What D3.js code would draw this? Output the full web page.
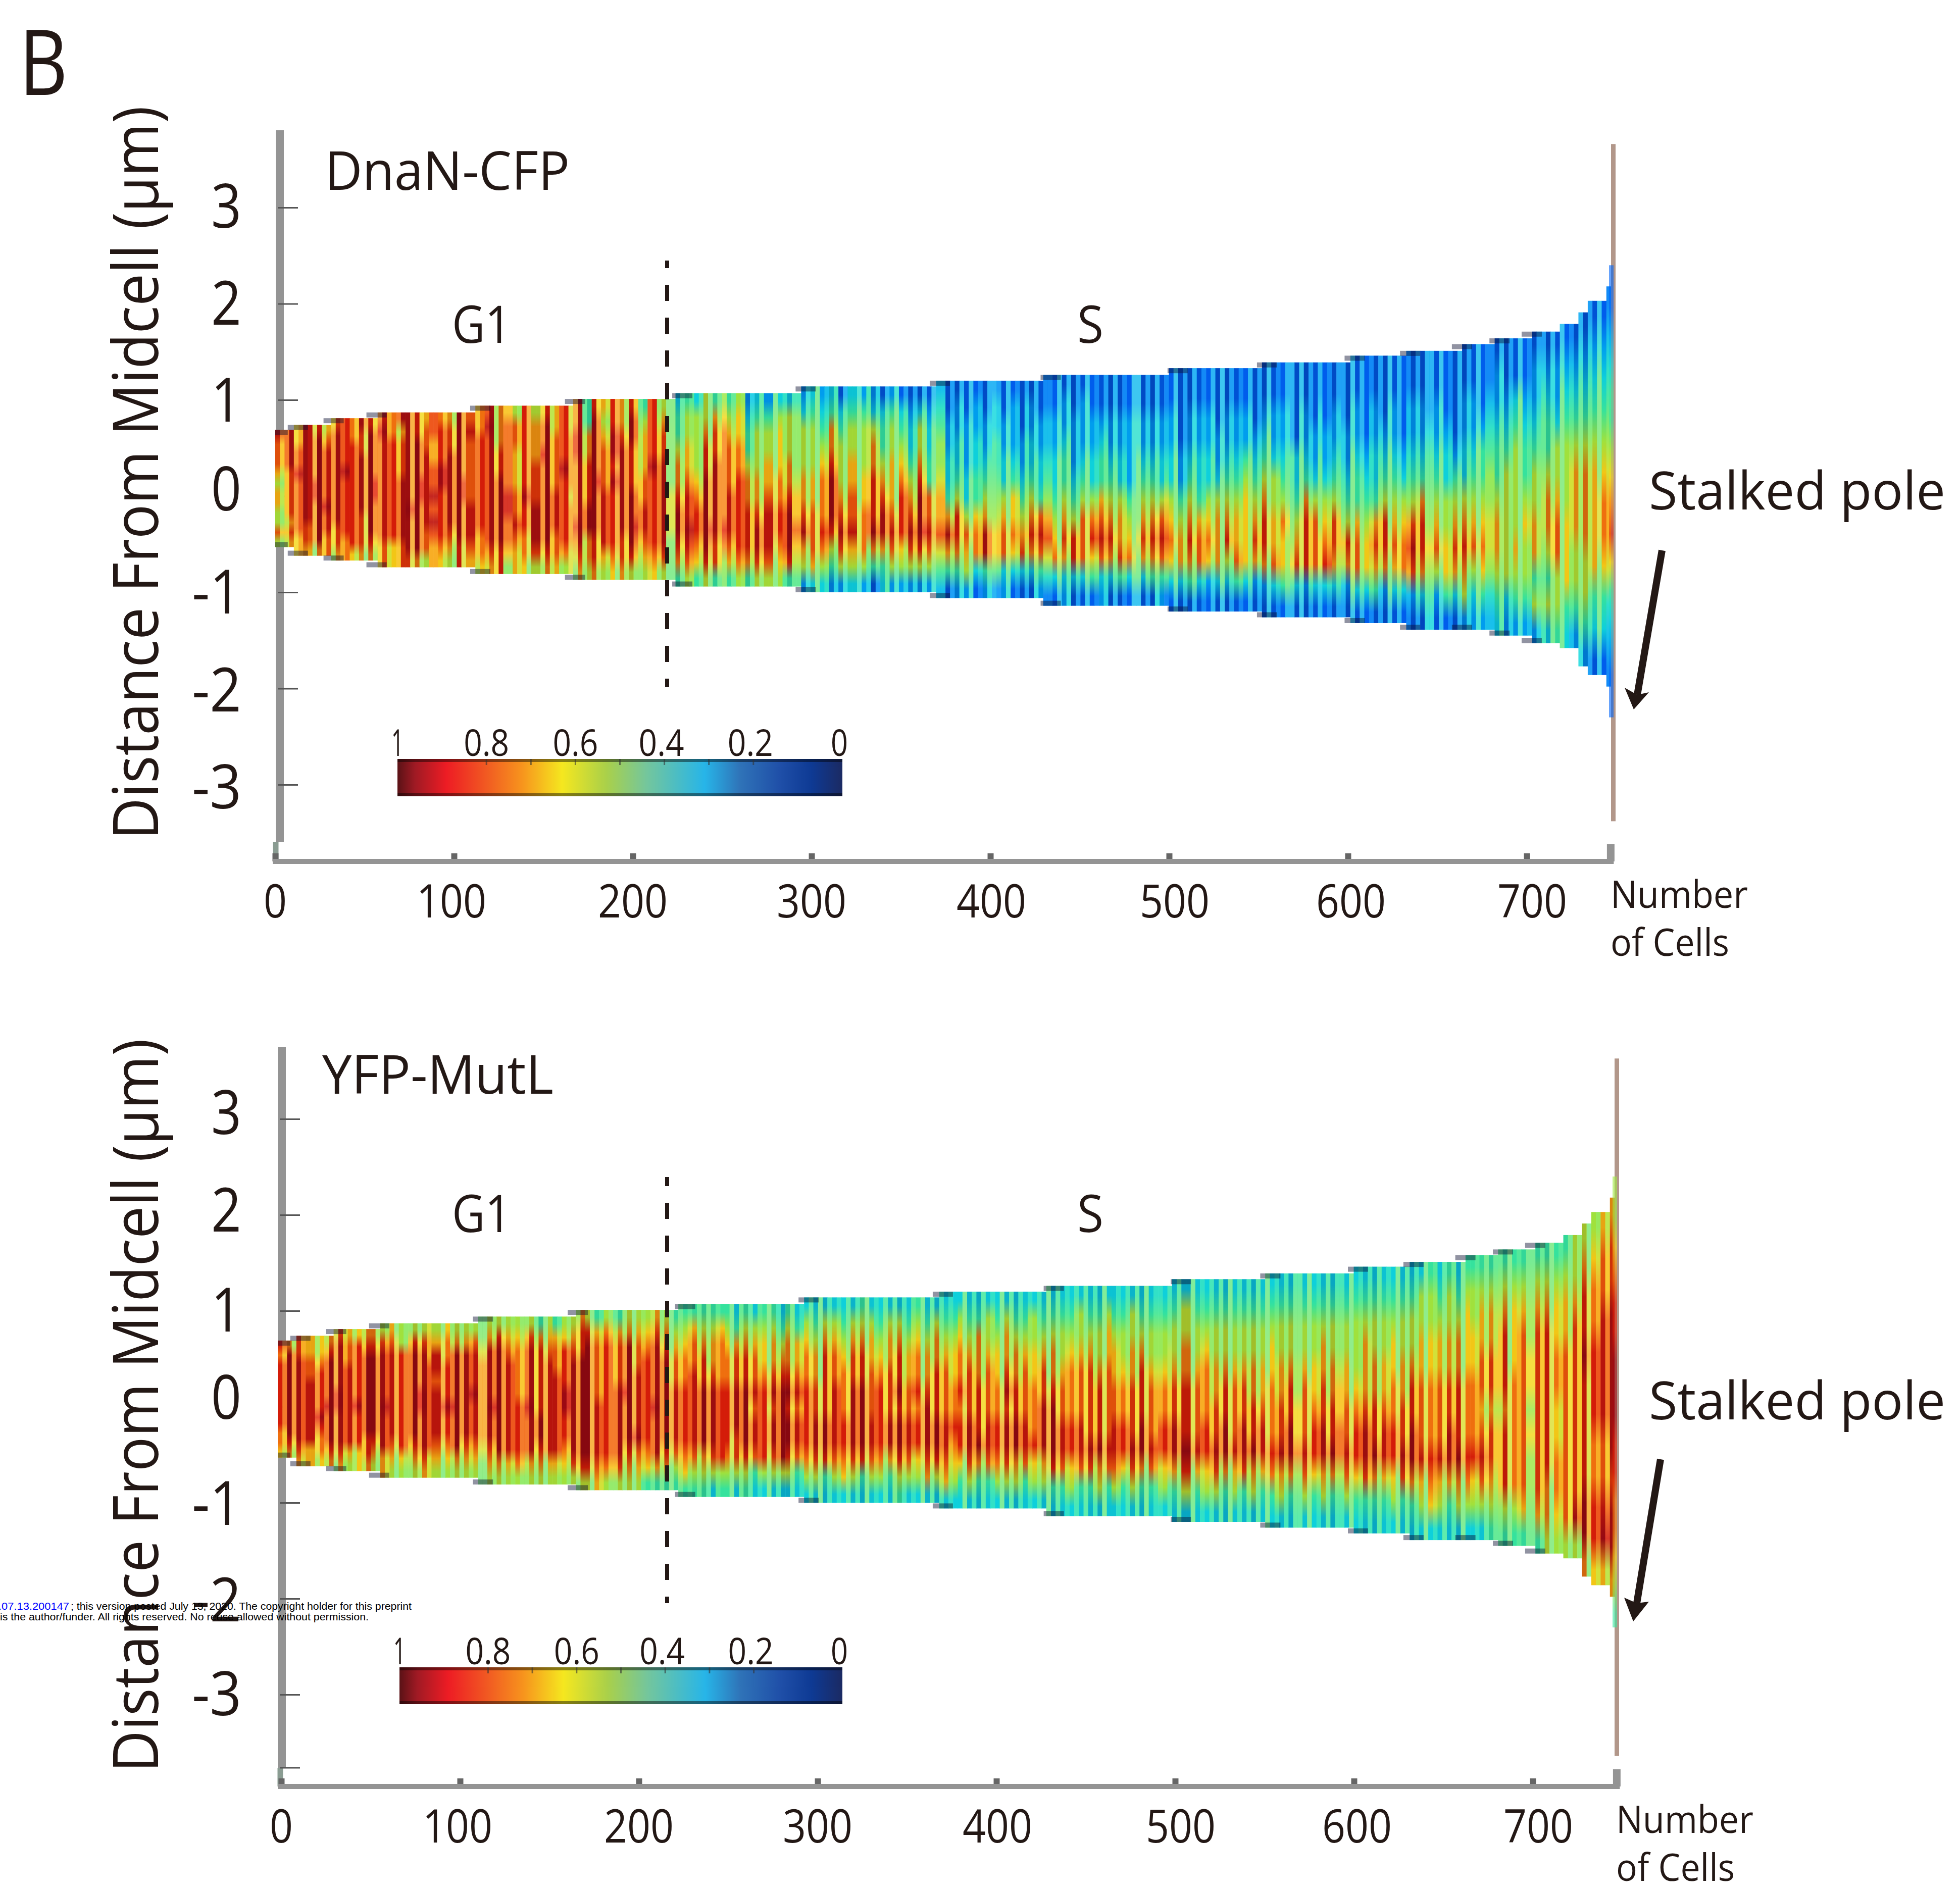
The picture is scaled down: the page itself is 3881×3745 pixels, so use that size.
<!DOCTYPE html>
<html><head><meta charset="utf-8">
<style>html,body{margin:0;padding:0;background:#fff}svg{display:block}text{font-family:"Open Sans","Noto Sans",sans-serif;fill:#231815}</style>
<script src="https://cdn.jsdelivr.net/npm/d3@7"></script></head>
<body><svg id="c" width="3881" height="3745"></svg>
<script>
// ---------- data ----------
const xTicks=[0,100,200,300,400,500,600,700];
const yTicks=[-3,-2,-1,0,1,2,3];
const yLabelsA=["3","2","1","0","-1","-2","-3"];
const barTicks=[1,0.8,0.6,0.4,0.2,0];
const barMinor=[0.8,0.7,0.6,0.5,0.4,0.3,0.2];
const barStopPos=[1,0.96,0.89,0.8,0.72,0.63,0.53,0.44,0.31,0.23,0.14,0.07,0];
const barStopCol=["#5a1216","#a01a24","#ed1c24","#f15a22","#f7941d","#f5e71f","#a9d04a","#74c69c","#27b5e8","#2f73b8","#1f4fa8","#0e3a94","#1b2a63"];
const heatStops=["#001a80","#0064f8","#00a4f4","#10d8e0","#38e8a0","#a0e840","#f8d818","#f88010","#e42008","#a00a14"];
const stepCells=[0,7,27,51,109,162,222,291,366,428,499,549,598,629,658,679,697,715,722,730,737,743];
const stepTops=[0.69,0.74,0.81,0.87,0.94,1.01,1.07,1.14,1.20,1.26,1.33,1.39,1.46,1.51,1.58,1.64,1.71,1.79,1.91,2.03,2.18,2.30];
const stepBots=[-0.53,-0.62,-0.67,-0.74,-0.81,-0.87,-0.94,-1.00,-1.06,-1.14,-1.20,-1.26,-1.32,-1.39,-1.39,-1.45,-1.53,-1.58,-1.77,-1.86,-1.98,-2.16];
const heatA=["877765665575","888877777676","778898888877","888888888776","788889988886","678888898877","788888888776","888898888877","778888888886","877888887776","788889988876","898888888877","778888888866","867778888877","888888898887","778889988886","677888888775","887788989877","788899888876","677888888765","888889988877","787777788876","778888888776","898888888876","666778888877","788888998875","577666778766","888888988776","566677788875","788988888876","667777888776","888898888875","778888788877","889988889876","446677788665","788889888776","656777888865","889989888876","667888888776","788777889875","456667788765","888898888876","567788888875","556666777664",
"344566788764","455667889875","355556788764","556778889875","467788888774","678888889865","456777888764","566778888875","234456677764","345556678875","245566788875","356667788765","355566788874","355556778764",
"235556678652","345556677763","234567778753","346678887542","134555678752","345566778653","245556677752","346667788542","235667778641","134456788643","245566678752","134567888652","123345678752","135567889752","123344778752","234556778642",
"112233468641","122334577642","112223357652","122334467731","112234568842","122334567741","112233567732","122234667631","111223456731","122334567631","112233478742","112234578631","112233456731","122344567632","112223457731","122234577731","112233578641","112344678732","112234567631","112233566741","112222456731","112234567631","112234567641","112233578742","112234678741","112233567631",
"111122456631","112234567641","112233467731","112233567621","111223566631","112234567531","112234566741","112245666631","111234567621","112345677621","112235566731","112234576641","111133456731","112234677721","111223577731","112234567721","111223567831","112234577631","111223457621","112234467731","111123456631","112233467641","111234577621","112234567631","111123567731","112234578721","112234677631","111234567632","112234567521","111233556641",
"111124567631","112233567652","112234567532","111244567642","112345566532","122344566543","112345555532","113455556542","112344565542","122345566452","123445665453","122355677554","123455566643","123456665542","123456665542","123456666431","123456776431","123456776321"];
const heatB=["878888888776","688888888876","778888888876","667788888866","667888898776","678888988876","788889988876","677888888865","688888988866","678888888776","678888888765","578888988866","678888888765","558888888865","578888888765","578889988876","677888888866","568878888765","677888988765","568888988865","568888888765","578889888765","567888888765","568888988765","578888888865","567888888865","567777888875","578888988865","467777788765","567888888865","467788888865","568889988765","567888888875","677888888875","578888888875","467777888876","578888888875","467778888875","568889888765","567788889765","567888888764","678888988864","567888888764","456778888754",
"456778888764","467788888754","456778888654","456678888753","467778888854","456778888754","346778887753","456778888754","356778788743","456678888853","456678788753","345678888853","456678788753","346678788743","356778888753","345667788753","356777788743","356778888753","345677788763","356778888753","456778888743","356677788753","345678888753","356677788643","356778788754","345667788753","456778788653","345667888763","356677788753","345677788763",
"345667787653","356778788643","345677788753","346667778643","355677788743","345667788753","356678788753","345667788653","345677788743","355667778653","345677888653","345667888743","345567788743","345677788653","355677788743","345677778743","345567778653","356677778743","345667788753","345567788643","355667778753","345677788643","345567778743","345567788653","345667788743","345567788643",
"355667778753","345567778643","345677788653","345566778753","345567788643","345567778653","345567788743","345566778653","345566788643","345667778743","345566778653","345567788643","345566778643","345567778753","345566788643","345667788653","345566778643","345567788643","345566778753","345556788643","345666788743","345566778643","345566788643","345667788653","345566778743","345567788643","355667778653","455667778763","345667778653","455667788643",
"345667778653","456667778753","455667778653","456677678753","456677677654","456777677754","456667777754","456777777764","456677676654","456777777764","456777777665","456677667765","456677777775","556777777785","567787777886","567788877886","677888877896","677888887886"];
// lane-to-lane brightness (0 dark ... 9 pale), one digit per narrow stripe
const contrastA="3772862391738264472918836472291836647281"+"9337462817736492281736499271183649281773"+"6472991836471928837461728339461772839461"+"7283394717283947271839662718394628873946"+"2718366492817394637182649927183649271836"+"4829173648271936488291738462771938462719"+"3846271883946281739466281739462771839462"+"8173946";
const contrastB="4718263384719263847118263947718263394718"+"2639927183647728193364728119364772819364"+"7281937463718264492718364927118364829173"+"6482719364828173649281736449271836492817"+"3647291836473827193364728193664728119364"+"7281937271839462718839462817739462718364"+"9281739463827194463827719463882719463827"+"1946372";
const spireTopA=3.66, spireBotA=-3.38, spireTopB=3.63, spireBotB=-3.64;
const spireProfileA="1123445678643211";
const spireProfileB="5567889998877654";
const xEnd=747;

// ---------- layout ----------
const panels=[
 {title:"DnaN-CFP",titleX:643,titleB:376,titleLen:485,heat:heatA,contrast:contrastA,profile:spireProfileA,spT:spireTopA,spB:spireBotA,
  axisX0:545,dataX:[545,3190],spireX:[3190,3199],y0:982.5,yStep:190.5,yAxisX:554,yAxisTop:258,yAxisBot:1668,xAxisY:1706,xLine0:540,stubX:546,
  yLab:[408,600,792,968,1172,1366,1558],yLabDy:43,dash:[516,1361,17],g1B:679,barX:[787,1668],barY:[1503,1577],extraTicks:[],
  poleB:1009,arrow:[3291,1090,3235,1405,3217,1362,3265,1371,3242,1376]},
 {title:"YFP-MutL",titleX:638,titleB:2166,titleLen:458,heat:heatB,contrast:contrastB,profile:spireProfileB,spT:spireTopB,spB:spireBotB,
  axisX0:557,dataX:[550,3197],spireX:[3197,3206],y0:2786,yStep:190,yAxisX:558,yAxisTop:2074,yAxisBot:3501,xAxisY:3538,xLine0:550,stubX:555,
  yLab:[2203,2396,2594,2767,2977,3168,3354],yLabDy:43,dash:[2331,3175,14],g1B:2440,barX:[791,1668],barY:[3302,3375],extraTicks:[-3.76],
  poleB:2811,arrow:[3288,2890,3234,3211,3216,3164,3265,3172,3241,3175]}
];
const xLabelNudge=[0,-5,0,0,2,11,6,11];
const ink="#231815", axisGrey="#949494";
const svg=d3.select("#c"), defs=svg.append("defs");
const heatScale=d3.scaleLinear().domain(d3.range(heatStops.length)).range(heatStops).clamp(true);
// pale lanes lean toward the middle of the colour scale, dark lanes away from it
function laneValue(d,c){
  let s=(c-4.5)*0.3;
  const dir=Math.max(-1,Math.min(1,(4.5-d)/1.5));
  if(d<4.5&&s<0) s*=0.35;
  return Math.max(0.8,Math.min(9,d+s*dir));
}
function label(g,x,y,str,size,len,anchor,rot){
  const t=g.append("text").attr("x",x).attr("y",y).attr("font-size",size).attr("text-anchor",anchor||"start").text(str);
  if(len) t.attr("textLength",len).attr("lengthAdjust","spacingAndGlyphs");
  if(rot) t.attr("transform",`rotate(${rot} ${x} ${y})`);
  return t;
}
label(svg,38,188,"B",179,96);

panels.forEach((p,pi)=>{
  const g=svg.append("g");
  const x=d3.scaleLinear().domain([0,100]).range([p.axisX0,p.axisX0+354]);
  const y=d3.scaleLinear().domain([0,1]).range([p.y0,p.y0-p.yStep]);
  const dataX=d3.scaleLinear().domain([0,xEnd]).range(p.dataX);
  const colCell=d3.scaleLinear().domain([0,p.heat.length]).range([0,xEnd]);
  const ext=c=>{const i=Math.max(0,d3.bisectRight(stepCells,c)-1);return [stepTops[i],stepBots[i]];};

  g.append("line").attr("x1",p.yAxisX).attr("x2",p.yAxisX).attr("y1",p.yAxisTop).attr("y2",p.yAxisBot).attr("stroke",axisGrey).attr("stroke-width",16);
  g.append("line").attr("x1",p.stubX).attr("x2",p.stubX).attr("y1",p.yAxisBot).attr("y2",p.xAxisY).attr("stroke","#8a9c92").attr("stroke-width",11);
  const ya=g.append("g").attr("transform",`translate(${p.yAxisX-4},0)`).call(d3.axisRight(y).tickValues(yTicks.concat(p.extraTicks)).tickSize(40).tickFormat(""));
  ya.select(".domain").remove();
  ya.selectAll("line").attr("stroke","#555").attr("stroke-width",3);
  const xa=g.append("g").attr("transform",`translate(0,${p.xAxisY})`).call(d3.axisBottom(x).tickValues(xTicks).tickSizeInner(-16).tickSizeOuter(0).tickFormat(""));
  xa.select(".domain").remove();
  xa.selectAll("line").attr("stroke","#666").attr("stroke-width",12);
  g.append("line").attr("x1",p.xLine0).attr("x2",x(xEnd)+6).attr("y1",p.xAxisY).attr("y2",p.xAxisY).attr("stroke",axisGrey).attr("stroke-width",10);
  g.append("line").attr("x1",x(xEnd)).attr("x2",x(xEnd)).attr("y1",p.xAxisY).attr("y2",p.xAxisY-34).attr("stroke",axisGrey).attr("stroke-width",15);
  xTicks.forEach((v,i)=>{
    const s=String(v);
    label(g,x(v)+xLabelNudge[i],p.xAxisY+111,s,91,s.length===1?46:138,"middle");
  });
  yLabelsA.forEach((s,i)=>label(g,478,p.yLab[i]+p.yLabDy,s,120,s.length===1?60:98,"end"));

  // heat lanes: each narrow lane takes its cell-block profile and its lane brightness
  const hm=g.append("g");
  const stripes=p.contrast.split("");
  const stripeCell=d3.scaleLinear().domain([0,stripes.length]).range([0,xEnd]);
  stripes.forEach((s,j)=>{
    const c0=stripeCell(j),c1=stripeCell(j+1);
    const colIdx=Math.min(p.heat.length-1,Math.floor(colCell.invert(c0+0.01)));
    const col=p.heat[colIdx], e=ext(colCell(colIdx)), v=+s, id=`h${pi}s${j}`;
    const gr=defs.append("linearGradient").attr("id",id).attr("x1",0).attr("x2",0).attr("y1",0).attr("y2",1);
    gr.selectAll("stop").data(col.split("")).join("stop")
      .attr("offset",(d,k)=>(k+0.5)/col.length).attr("stop-color",d=>heatScale(laneValue(+d,v)));
    hm.append("rect").attr("x",dataX(c0)).attr("width",dataX(c1)-dataX(c0)+0.5)
      .attr("y",y(e[0])).attr("height",y(e[1])-y(e[0])).attr("fill",`url(#${id})`);
    hm.append("rect").attr("x",dataX(c0)).attr("width",dataX(c1)-dataX(c0))
      .attr("y",y(e[0])).attr("height",y(e[1])-y(e[0]))
      .attr("fill",v<5?"#000":"#fff").attr("fill-opacity",v<5?(4.5-v)*0.045:(v-4.5)*0.05);
  });
  stepCells.forEach((c,i)=>{
    if(i>16) return;
    const next=stepCells[i+1];
    const w=Math.min(dataX(next)-dataX(c),40);
    [[stepTops[i],0],[stepBots[i],-10]].forEach(a=>{
      hm.append("rect").attr("x",dataX(c)).attr("width",w).attr("y",y(a[0])+a[1]).attr("height",10).attr("fill","#0a1030").attr("fill-opacity",0.45);
    });
  });
  g.append("rect").attr("x",p.spireX[0]).attr("width",p.spireX[1]-p.spireX[0]).attr("y",y(p.spT)).attr("height",y(p.spB)-y(p.spT)).attr("fill","#b2978a");
  const sid=`sp${pi}`;
  const sg=defs.append("linearGradient").attr("id",sid).attr("x1",0).attr("x2",0).attr("y1",0).attr("y2",1);
  const prof=p.profile.split("");
  sg.selectAll("stop").data(prof).join("stop").attr("offset",(d,k)=>(k+0.5)/prof.length).attr("stop-color",d=>heatScale(+d));
  g.append("rect").attr("x",p.spireX[0]-4).attr("width",p.spireX[1]-p.spireX[0]).attr("y",y(2.4)).attr("height",y(-2.3)-y(2.4)).attr("fill",`url(#${sid})`).attr("fill-opacity",0.6);

  g.append("line").attr("x1",1321).attr("x2",1321).attr("y1",p.dash[0]).attr("y2",p.dash[1]).attr("stroke",ink).attr("stroke-width",8).attr("stroke-dasharray","32 33").attr("stroke-dashoffset",p.dash[2]);

  const bar=d3.scaleLinear().domain([1,0]).range(p.barX);
  const bid=`bar${pi}`;
  const bg=defs.append("linearGradient").attr("id",bid);
  bg.selectAll("stop").data(barStopPos).join("stop").attr("offset",d=>1-d).attr("stop-color",(d,i)=>barStopCol[i]);
  g.append("rect").attr("x",p.barX[0]).attr("y",p.barY[0]).attr("width",p.barX[1]-p.barX[0]).attr("height",p.barY[1]-p.barY[0]).attr("fill",`url(#${bid})`);
  [p.barY[0],p.barY[1]-6].forEach(yy=>g.append("rect").attr("x",p.barX[0]).attr("y",yy).attr("width",p.barX[1]-p.barX[0]).attr("height",6).attr("fill","#000").attr("fill-opacity",0.45));
  barMinor.forEach(v=>g.append("line").attr("x1",bar(v)).attr("x2",bar(v)).attr("y1",p.barY[0]).attr("y2",p.barY[0]+12).attr("stroke","#333").attr("stroke-opacity",.6).attr("stroke-width",3));
  barTicks.forEach(v=>{
    const s=String(v);
    label(g,bar(v)-(v<0.5?6:0),p.barY[0]-6,s,73,s.length===1?(v===1?24:34):90,"middle");
  });

  label(g,313,pi?3510:1663,"Distance From Midcell (\u00b5m)",125,1453,"start",-90);
  label(g,p.titleX,p.titleB,p.title,106,p.titleLen);
  label(g,895,p.g1B,"G1",102,117);
  label(g,2133,p.g1B,"S",102,52);
  label(g,3265,p.poleB,"Stalked pole",104,587);
  const nb=p.xAxisY+92;
  label(g,3189+(pi?11:0),nb,"Number",75,272);
  label(g,3189+(pi?11:0),nb+95,"of Cells",75,235);
  const a=p.arrow;
  g.append("line").attr("x1",a[0]).attr("y1",a[1]).attr("x2",a[8]).attr("y2",a[9]).attr("stroke",ink).attr("stroke-width",14);
  g.append("path").attr("d",`M${a[2]},${a[3]}L${a[4]},${a[5]}L${a[8]},${a[9]}L${a[6]},${a[7]}Z`).attr("fill",ink);
});

const stamp=svg.append("g");
stamp.append("text").attr("x",140).attr("y",3188).attr("font-size",19.5).attr("textLength",675).attr("lengthAdjust","spacingAndGlyphs").style("font-family","Liberation Sans").style("fill","#000").text("; this version posted July 13, 2020. The copyright holder for this preprint");
stamp.append("text").attr("x",137).attr("y",3188).attr("font-size",19.5).attr("text-anchor","end").attr("textLength",140).attr("lengthAdjust","spacingAndGlyphs").style("font-family","Liberation Sans").style("fill","#0000ff").text(".07.13.200147");
stamp.append("text").attr("x",0).attr("y",3209).attr("font-size",19.5).attr("textLength",730).attr("lengthAdjust","spacingAndGlyphs").style("font-family","Liberation Sans").style("fill","#000").text("is the author/funder. All rights reserved. No reuse allowed without permission.");
</script></body></html>
